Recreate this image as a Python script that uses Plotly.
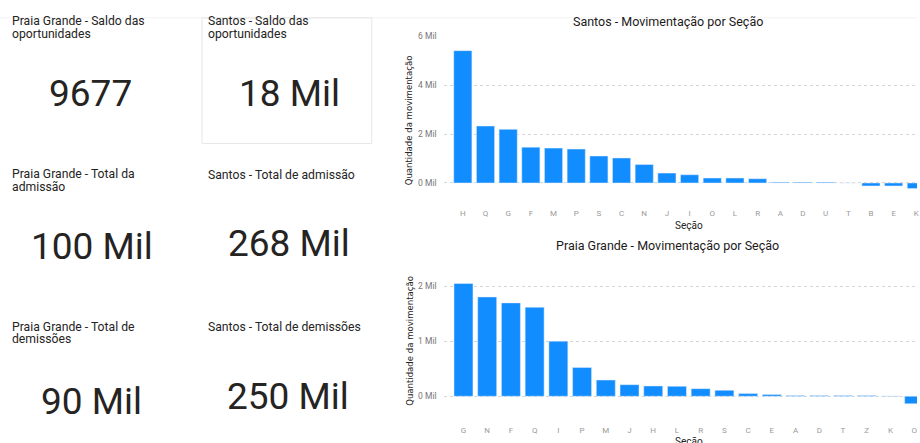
import plotly.graph_objects as go

W, H = 920, 443

# ---- data ----
santos_secoes = ["H", "Q", "G", "F", "M", "P", "S", "C", "N", "J", "I", "O", "L", "R", "A", "D", "U", "T", "B", "E", "K"]
santos_valores = [5414, 2331, 2194, 1467, 1427, 1387, 1104, 1023, 754, 404, 337, 202, 202, 175, 30, 30, 30, 3, -121, -121, -230]

praia_secoes = ["G", "N", "F", "Q", "I", "P", "M", "J", "H", "L", "R", "S", "C", "E", "A", "D", "T", "Z", "K", "O"]
praia_valores = [2047, 1802, 1695, 1616, 1000, 521, 294, 210, 187, 180, 138, 108, 48, 30, 15, 12, 12, 12, 5, -137]

santos_tick_vals = [0, 2000, 4000, 6000]
santos_tick_text = ["0 Mil", "2 Mil", "4 Mil", "6 Mil"]
praia_tick_vals = [0, 1000, 2000]
praia_tick_text = ["0 Mil", "1 Mil", "2 Mil"]

card_titles = [
    ["Praia Grande - Saldo das", "oportunidades"],
    ["Santos - Saldo das", "oportunidades"],
    ["Praia Grande - Total da", "admissão"],
    ["Santos - Total de admissão"],
    ["Praia Grande - Total de", "demissões"],
    ["Santos - Total de demissões"],
]
card_values = ["9677", "18 Mil", "100 Mil", "268 Mil", "90 Mil", "250 Mil"]

chart_titles = ["Santos - Movimentação por Seção", "Praia Grande - Movimentação por Seção"]
y_title = "Quantidade da movimentação"
x_title = "Seção"

# ---- layout helpers ----
def py(p):
    return 1 - p / H

def px(p):
    return p / W

BLUE = "#118DFF"
DARK = "#252423"

fig = go.Figure()
fig.add_bar(x=santos_secoes, y=santos_valores, marker_color=BLUE, xaxis="x", yaxis="y",
            hoverinfo="x+y")
fig.add_bar(x=praia_secoes, y=praia_valores, marker_color=BLUE, xaxis="x2", yaxis="y2",
            hoverinfo="x+y")

axis_common_x = dict(type="category", showgrid=False, zeroline=False, showline=False,
                     ticks="", tickfont=dict(family="Roboto", size=8, color="#9a9a9a"),
                     fixedrange=True)
axis_common_y = dict(showgrid=True, gridcolor="#d6d6d6", griddash="dot", gridwidth=1,
                     zeroline=False, showline=False, ticks="",
                     tickfont=dict(family="Roboto", size=8.5, color="#777777"),
                     ticklabelstandoff=6, fixedrange=True)

fig.update_layout(
    width=W, height=H, autosize=False,
    margin=dict(l=0, r=0, t=0, b=0),
    paper_bgcolor="white", plot_bgcolor="white",
    showlegend=False, bargap=0.2,
    xaxis=dict(domain=[px(445), 1.0], anchor="y", range=[-0.85, 20.03],
               ticklabelstandoff=4, **axis_common_x),
    yaxis=dict(domain=[py(200), py(31.7)], anchor="x", range=[-808, 6000],
               tickvals=santos_tick_vals, ticktext=santos_tick_text, **axis_common_y),
    xaxis2=dict(domain=[px(445), 1.0], anchor="y2", range=[-0.84, 19.12],
                ticklabelstandoff=6, **axis_common_x),
    yaxis2=dict(domain=[py(418), py(275)], anchor="x2", range=[-400, 2167],
                tickvals=praia_tick_vals, ticktext=praia_tick_text, **axis_common_y),
)

ann = []
# card titles
title_pos = [(10, 16.2), (207, 16.2), (10, 171.2), (207, 171.7), (10, 325.5), (207, 325.7)]
for lines, (x0, y0) in zip(card_titles, title_pos):
    for i, line in enumerate(lines):
        ann.append(dict(text=line, xref="paper", yref="paper", x=px(x0), y=py(y0 + i * 12.8),
                        xanchor="left", yanchor="middle", showarrow=False,
                        font=dict(family="Roboto", size=12.2, color=DARK)))
# card values
value_pos = [(91, 90), (290, 90), (92, 244), (290, 241), (92, 401), (289, 396)]
for v, (x0, y0) in zip(card_values, value_pos):
    ann.append(dict(text=v, xref="paper", yref="paper", x=px(x0), y=py(y0),
                    xanchor="center", yanchor="middle", showarrow=False,
                    font=dict(family="Roboto", size=37, color=DARK)))
# chart titles
for t, y0 in zip(chart_titles, [16.7, 243.3]):
    ann.append(dict(text=t, xref="paper", yref="paper", x=px(670), y=py(y0),
                    xanchor="center", yanchor="middle", showarrow=False,
                    font=dict(family="Roboto", size=12.5, color="#1b1a19")))
# axis titles
for yc in [117, 340]:
    ann.append(dict(text=y_title, xref="paper", yref="paper", x=px(410), y=py(yc),
                    xanchor="center", yanchor="middle", textangle=-90, showarrow=False,
                    font=dict(family="DejaVu Sans Condensed", size=9.5, color=DARK)))
for yc in [223, 441]:
    ann.append(dict(text=x_title, xref="paper", yref="paper", x=px(691), y=py(yc),
                    xanchor="center", yanchor="middle", showarrow=False,
                    font=dict(family="Roboto", size=10, color=DARK)))
fig.update_layout(annotations=ann)

# faint frame lines
fig.add_shape(type="line", xref="paper", yref="paper", x0=0, x1=1, y0=py(13), y1=py(13),
              line=dict(color="#f2f2f2", width=1))
fig.add_shape(type="rect", xref="paper", yref="paper", x0=px(202.7), x1=px(373),
              y0=py(140), y1=py(13), line=dict(color="#e6e6e6", width=1))

fig.write_html("out.html", config={"displayModeBar": False},
               post_script="document.body.style.margin='0';document.body.style.overflow='hidden';")
